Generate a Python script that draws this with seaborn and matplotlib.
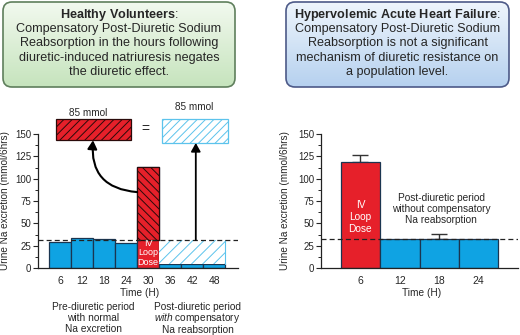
import numpy as np
import matplotlib
matplotlib.use("Agg")
import matplotlib.pyplot as plt
import seaborn as sns
from matplotlib.patches import FancyBboxPatch, FancyArrowPatch, Rectangle
from matplotlib.colors import LinearSegmentedColormap
from matplotlib.ticker import FixedLocator

# ---- data ----
# healthy volunteers (left panel)
hv_hours = [6, 12, 18, 24, 30, 36, 42, 48]
hv_na = [29, 34, 32, 28, 113, 4, 4, 4]
hv_phase = ["pre", "pre", "pre", "pre", "dose", "post", "post", "post"]
hv_baseline = 31.5
hv_dose_hour = 30
hv_post_hours = [36, 42, 48]
hv_post_na = [4, 4, 4]

# hypervolemic acute heart failure (right panel)
ahf_hours = [6, 12, 18, 24]
ahf_na = [119, 33, 33, 33]
ahf_err = [7.5, 0, 5, 0]
ahf_phase = ["dose", "post", "post", "post"]
ahf_baseline = 32

y_ticks = [0, 25, 50, 75, 100, 125, 150]
y_minor = [12.5, 37.5, 62.5, 87.5, 112.5, 137.5]

left_title = [r"$\bf{Healthy\ Volunteers}$:",
              "Compensatory Post-Diuretic Sodium",
              "Reabsorption in the hours following",
              "diuretic-induced natriuresis negates",
              "the diuretic effect."]
right_title = [r"$\bf{Hypervolemic\ Acute\ Heart\ Failure}$:",
               "Compensatory Post-Diuretic Sodium",
               "Reabsorption is not a significant",
               "mechanism of diuretic resistance on",
               "a population level."]

BLUE = "#0fa3e3"
RED = "#e6202a"
EDGE = "#1b3550"
LIGHT = "#5cc3ec"

sns.set_style("ticks")
plt.rcParams["font.family"] = ["Liberation Sans", "DejaVu Sans"]
plt.rcParams["mathtext.fontset"] = "custom"
plt.rcParams["mathtext.bf"] = "Liberation Sans:bold"
plt.rcParams["mathtext.it"] = "Liberation Sans:italic"
plt.rcParams["mathtext.rm"] = "Liberation Sans"
plt.rcParams["hatch.linewidth"] = 0.7

fig = plt.figure(figsize=(5.2, 3.35), dpi=100)

pal = {"pre": BLUE, "post": BLUE, "dose": RED}


def style_axis(ax, xmax, hours):
    ax.set_ylim(0, 175)
    ax.set_xlim(0, xmax)
    ax.set_yticks(y_ticks)
    ax.yaxis.set_minor_locator(FixedLocator(y_minor))
    ax.set_xticks(hours)
    ax.set_xticklabels([str(h) for h in hours])
    ax.spines["left"].set_bounds(0, 150)
    for s in ["top", "right"]:
        ax.spines[s].set_visible(False)
    for s in ["left", "bottom"]:
        ax.spines[s].set_linewidth(0.9)
        ax.spines[s].set_color("#222222")
    ax.tick_params(axis="y", which="major", length=3.5, width=0.8, labelsize=7, pad=1.5)
    ax.tick_params(axis="y", which="minor", length=2, width=0.7)
    ax.tick_params(axis="x", length=0, labelsize=7.5, pad=6)
    ax.set_xlabel("Time (H)", fontsize=7.3)
    ax.set_ylabel("Urine Na excretion (mmol/6hrs)", fontsize=7.2)
    ax.xaxis.set_label_coords(0.51, -0.125)
    ax.set_facecolor("none")


# ---- left panel ----
ax1 = fig.add_axes([38 / 520, 67 / 335, 200 / 520, 156.3 / 335])
sns.barplot(x=hv_hours, y=hv_na, hue=hv_phase, palette=pal, native_scale=True,
            width=1, saturation=1, edgecolor=EDGE, linewidth=0.9, legend=False, ax=ax1)
# hatched part of the dose bar above baseline
ax1.bar([hv_dose_hour], [hv_na[4] - hv_baseline], bottom=hv_baseline, width=6,
        facecolor=RED, edgecolor="#2a0a0a", linewidth=0.9, hatch="\\\\\\\\", zorder=3)
# missing (compensated) sodium after the dose
ax1.bar(hv_post_hours, [hv_baseline - v for v in hv_post_na], bottom=hv_post_na, width=6,
        facecolor="white", edgecolor=LIGHT, linewidth=0, hatch="///", zorder=1)
ax1.plot([51, 51], [hv_post_na[-1], hv_baseline], color=LIGHT, lw=0.8)
ax1.axhline(hv_baseline, color="#222222", ls=(0, (4, 2.5)), lw=0.9, zorder=4)
style_axis(ax1, 54.5, hv_hours)
ax1.yaxis.set_label_coords(-0.14, 0.43)

ax1.text(hv_dose_hour, 17, "IV\nLoop\nDose", color="white", ha="center", va="center",
         fontsize=6.5, linespacing=1.05, zorder=5)

# 85 mmol boxes
ax1.add_patch(Rectangle((5, 143), 20.3, 24, facecolor=RED, edgecolor="#2a0a0a",
                        hatch="////", lw=0.9, clip_on=False))
ax1.add_patch(Rectangle((33.8, 140), 18, 27, facecolor="white", edgecolor=LIGHT,
                        hatch="////", lw=0.9, clip_on=False))
ax1.text(13.6, 173.5, "85 mmol", fontsize=7.2, ha="center", va="center")
ax1.text(42.5, 180, "85 mmol", fontsize=7.2, ha="center", va="center")
ax1.text(29.3, 155.5, "=", fontsize=10, ha="center", va="center")

ax1.add_patch(FancyArrowPatch((27, 85), (15, 143), connectionstyle="arc3,rad=-0.5",
                              arrowstyle="-|>,head_length=5,head_width=2.8",
                              lw=1.5, color="black", shrinkA=0, shrinkB=0,
                              clip_on=False, zorder=6))
ax1.add_patch(FancyArrowPatch((43, hv_baseline), (43, 140),
                              arrowstyle="-|>,head_length=5,head_width=2.8",
                              lw=1.3, color="black", shrinkA=0, shrinkB=0,
                              clip_on=False, zorder=6))

ax1.text(15, -56, "Pre-diuretic period\nwith normal\nNa excretion", fontsize=7.3,
         ha="center", va="center", linespacing=1.15)
ax1.text(43.5, -44, "Post-diuretic period", fontsize=7.3, ha="center", va="center")
ax1.text(43.5, -56.5, r"$\it{with}$ compensatory", fontsize=7.3, ha="center", va="center")
ax1.text(43.5, -69, "Na reabsorption", fontsize=7.3, ha="center", va="center")

# ---- right panel ----
ax2 = fig.add_axes([321 / 520, 67 / 335, 197 / 520, 156.3 / 335])
sns.barplot(x=ahf_hours, y=ahf_na, hue=ahf_phase, palette=pal, native_scale=True,
            width=1, saturation=1, edgecolor=EDGE, linewidth=0.9, legend=False, ax=ax2)
err_idx = [i for i, e in enumerate(ahf_err) if e > 0]
ax2.errorbar([ahf_hours[i] for i in err_idx], [ahf_na[i] for i in err_idx],
             yerr=[[0] * len(err_idx), [ahf_err[i] for i in err_idx]],
             fmt="none", ecolor="#333333", elinewidth=1, capsize=5.5, capthick=1, zorder=0)
ax2.axhline(ahf_baseline, color="#222222", ls=(0, (4, 2.5)), lw=0.9, zorder=4)
style_axis(ax2, 30, ahf_hours)
ax2.yaxis.set_label_coords(-0.157, 0.43)
ax2.text(ahf_hours[0], 57, "IV\nLoop\nDose", color="white", ha="center", va="center",
         fontsize=7.3, linespacing=1.2, zorder=5)
ax2.text(18.3, 66, "Post-diuretic period\nwithout compensatory\nNa reabsorption",
         fontsize=7.3, ha="center", va="center", linespacing=1.15)

# ---- title boxes ----
ov = fig.add_axes([0, 0, 1, 1])
ov.axis("off")


def grad_box(x0, y0, x1, y1, top, bottom, edge, lines):
    box = FancyBboxPatch((x0, y0), x1 - x0, y1 - y0,
                         boxstyle="round,pad=0,rounding_size=9",
                         facecolor="none", edgecolor=edge, lw=1.2, zorder=3)
    ov.add_patch(box)
    cmap = LinearSegmentedColormap.from_list("g", [top, bottom])
    grad = np.linspace(0, 1, 100).reshape(-1, 1)
    im = ov.imshow(grad, cmap=cmap, extent=(x0, x1, y1, y0), aspect="auto", zorder=2)
    im.set_clip_path(box)
    cx = (x0 + x1) / 2
    for i, line in enumerate(lines):
        ov.text(cx, 15 + i * 14.2, line, ha="center", va="center", fontsize=9.1, zorder=4)


grad_box(3, 2, 235, 87, "#f2f9ef", "#c6e4bd", "#5f7f5c", left_title)
grad_box(286, 2, 509, 87, "#eef5fc", "#b6d1ef", "#4d5a88", right_title)
ov.set_xlim(0, 520)
ov.set_ylim(335, 0)

fig.savefig("out.png", dpi=100)
